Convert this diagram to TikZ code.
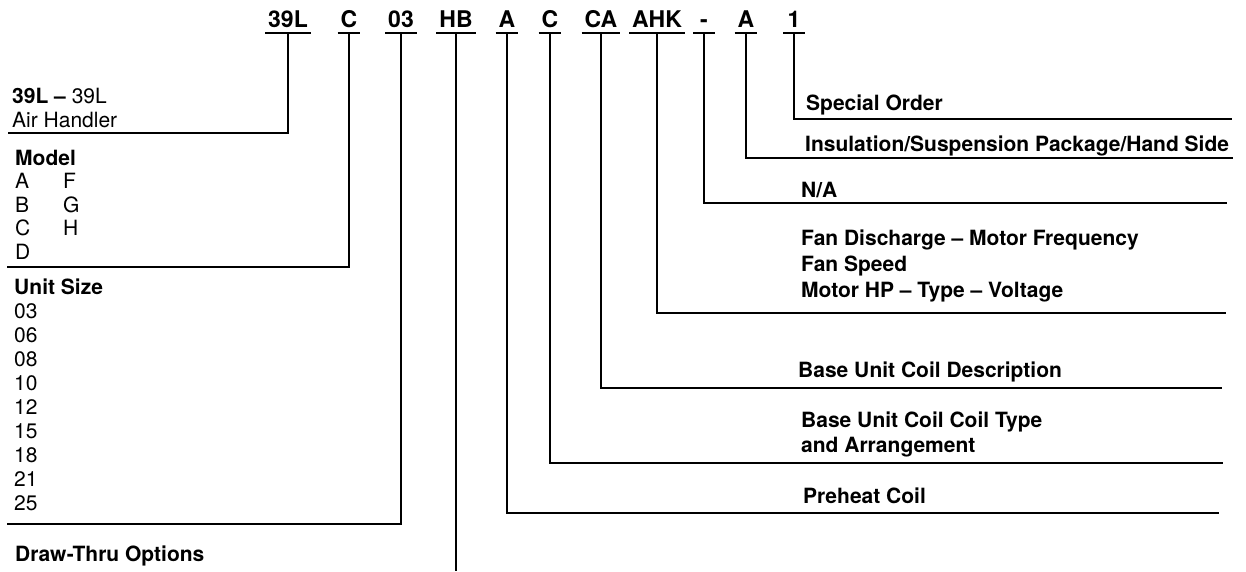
\documentclass[tikz,border=0pt]{standalone}
\usepackage{fontspec}
\setmainfont{TeX Gyre Heros}
\usetikzlibrary{positioning}

\begin{document}
\begin{tikzpicture}[x=1pt,y=-1pt,
    code/.style={font=\fontsize{23}{26}\selectfont\bfseries, anchor=base,
      inner xsep=3pt, inner ysep=6pt, text depth=0pt, minimum width=22pt, outer sep=0pt},
    uline/.style={line width=2.5pt},
    lead/.style={line width=2.2pt},
    lab/.style={font=\fontsize{21}{26}\selectfont\bfseries, anchor=base west,
      align=left, inner sep=0pt},
    plain/.style={font=\fontsize{21}{24}\selectfont, anchor=base west,
      align=left, inner sep=0pt}]
    \useasboundingbox (0,0) rectangle (1246,571);

    % Model number along the top
    \node[code] (nUnit)  at (288,27) {39L};
    \node[code] (nModel) at (349,27) {C};
    \node[code] (nSize)  at (401,27) {03};
    \node[code] (nDraw)  at (456,27) {HB};
    \node[code] (nPre)   at (507,27) {A};
    \node[code] (nCoil)  at (550,27) {C};
    \node[code] (nDesc)  at (601,27) {CA};
    \node[code] (nFan)   at (657,27) {AHK};
    \node[code] (nNA)    at (704,27) {-};
    \node[code] (nIns)   at (746,27) {A};
    \node[code] (nSpec)  at (794,27) {1};
    \foreach \n in {nUnit,nModel,nSize,nDraw,nPre,nCoil,nDesc,nFan,nNA,nIns,nSpec}
      \draw[uline] (\n.south west) -- (\n.south east);

    % Left side: descriptions (multi-line nodes sit on their last line)
    \node[plain] (tUnit) at (12,127) {\textbf{39L –} 39L\\Air Handler};
    \node[plain, font=\fontsize{21}{23.5}\selectfont] (tModel) at (15,259)
      {\textbf{Model}\\\makebox[48pt][l]{A}F\\\makebox[48pt][l]{B}G\\\makebox[48pt][l]{C}H\\D};
    \node[plain] (tSize) at (14,510)
      {\textbf{Unit Size}\\03\\06\\08\\10\\12\\15\\18\\21\\25};
    \node[lab] (tDraw) at (15,561) {Draw-Thru Options};

    % Right side: descriptions
    \node[lab] (tSpec) at (806,110) {Special Order};
    \node[lab] (tIns)  at (805,151) {Insulation/Suspension Package/Hand Side};
    \node[lab] (tNA)   at (801,197) {N/A};
    \node[lab] (tFan)  at (801,297)
      {Fan Discharge – Motor Frequency\\Fan Speed\\Motor HP – Type – Voltage};
    \node[lab] (tDesc) at (798,377) {Base Unit Coil Description};
    \node[lab, font=\fontsize{21}{25}\selectfont\bfseries] (tCoil) at (801,452)
      {Base Unit Coil Coil Type\\and Arrangement};
    \node[lab] (tPre)  at (803,503) {Preheat Coil};

    % Leader ends
    \coordinate (eUnit)  at (8,133);
    \coordinate (eModel) at (7,267);
    \coordinate (eSize)  at (7,524);
    \coordinate (eDraw)  at (456,571);
    \coordinate (ePre)   at (1219,513);
    \coordinate (eCoil)  at (1223,463);
    \coordinate (eDesc)  at (1222,388);
    \coordinate (eFan)   at (1226,313);
    \coordinate (eNA)    at (1227,203);
    \coordinate (eIns)   at (1233,158);
    \coordinate (eSpec)  at (1232,119);

    % Leaders
    \draw[lead] (nUnit.south)  |- (eUnit);
    \draw[lead] (nModel.south) |- (eModel);
    \draw[lead] (nSize.south)  |- (eSize);
    \draw[lead] (nDraw.south)  -- (eDraw);
    \draw[lead] (nPre.south)   |- (ePre);
    \draw[lead] (nCoil.south)  |- (eCoil);
    \draw[lead] (nDesc.south)  |- (eDesc);
    \draw[lead] (nFan.south)   |- (eFan);
    \draw[lead] (nNA.south)    |- (eNA);
    \draw[lead] (nIns.south)   |- (eIns);
    \draw[lead] (nSpec.south)  |- (eSpec);
\end{tikzpicture}
\end{document}
